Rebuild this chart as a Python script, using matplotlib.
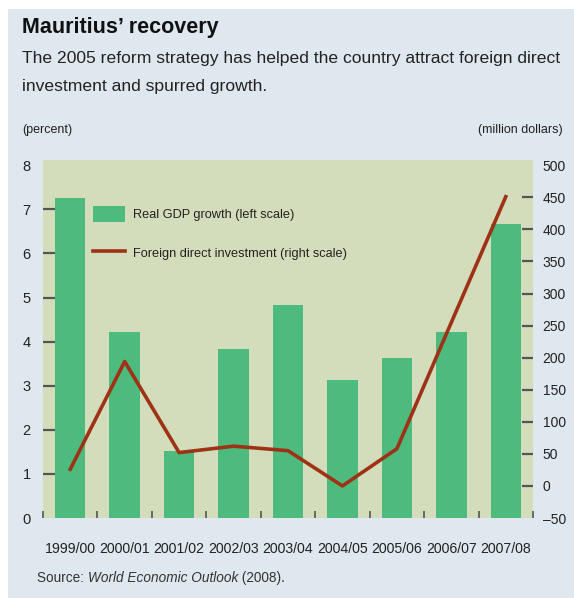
import matplotlib
matplotlib.use("Agg")
import matplotlib.pyplot as plt
from matplotlib.patches import Rectangle

plt.rcParams["font.family"] = ["Liberation Sans", "DejaVu Sans"]

# data
years = ["1999/00", "2000/01", "2001/02", "2002/03", "2003/04",
         "2004/05", "2005/06", "2006/07", "2007/08"]
gdp_growth = [7.25, 4.23, 1.53, 3.84, 4.84, 3.14, 3.64, 4.23, 6.67]
fdi = [26, 194, 52, 62, 55, 0, 58, 255, 451]

left_ticks = [0, 1, 2, 3, 4, 5, 6, 7, 8]
right_ticks = [-50, 0, 50, 100, 150, 200, 250, 300, 350, 400, 450, 500]

panel_bg = "#dfe7ef"
plot_bg = "#d4ddbb"
bar_green = "#4dbb7e"
line_red = "#9e3216"
tick_grey = "#555555"
text_dark = "#222222"

W, H = 574, 598
fig = plt.figure(figsize=(W / 100, H / 100), dpi=100)
fig.patch.set_facecolor("white")

# light blue panel behind everything
fig.patches.append(Rectangle((8 / W, 0.5 / H), 1, 1 - 9.5 / H, transform=fig.transFigure,
                             facecolor=panel_bg, edgecolor="none", zorder=-10))

ax = fig.add_axes([43 / W, 1 - 518 / H, 490 / W, 358 / H])
ax.set_facecolor(plot_bg)
x = list(range(len(years)))
ax.bar(x, gdp_growth, width=0.56, color=bar_green, zorder=2, label="Real GDP growth (left scale)")
ax.set_xlim(-0.5, len(years) - 0.5)
ax.set_ylim(0, 8.12)
for s in ax.spines.values():
    s.set_visible(False)

# labels on major ticks, marks only on inner values (minor ticks)
ax.yaxis.remove_overlapping_locs = False
ax.set_yticks(left_ticks)
ax.set_yticklabels([str(t) for t in left_ticks])
ax.set_yticks(left_ticks[1:-1], minor=True)
ax.tick_params(axis="y", which="major", length=0, labelsize=10.5, labelcolor=text_dark, pad=9)
ax.tick_params(axis="y", which="minor", direction="in", length=9, width=1.6, color=tick_grey)

ax.set_xticks(x)
ax.set_xticklabels(years)
ax.set_xticks([i - 0.5 for i in range(len(years) + 1)], minor=True)
ax.tick_params(axis="x", which="major", length=0, labelsize=10.2, labelcolor=text_dark, pad=17)
ax.tick_params(axis="x", which="minor", direction="in", length=5, width=1.2, color=tick_grey)

ax2 = ax.twinx()
line, = ax2.plot(x, fdi, color=line_red, lw=2.6, zorder=3,
                 label="Foreign direct investment (right scale)")
ax2.set_ylim(-50, -50 + 550 * 8.12 / 8)
for s in ax2.spines.values():
    s.set_visible(False)
ax2.yaxis.remove_overlapping_locs = False
ax2.set_yticks(right_ticks)
ax2.set_yticklabels(["\u201350" if t < 0 else str(t) for t in right_ticks])
ax2.set_yticks(right_ticks[1:-1], minor=True)
ax2.tick_params(axis="y", which="major", length=0, labelsize=10, labelcolor=text_dark, pad=7)
ax2.tick_params(axis="y", which="minor", direction="in", length=8, width=1.6, color=tick_grey)

handles = [ax.patches[0], line]
labels = ["Real GDP growth (left scale)", "Foreign direct investment (right scale)"]
ax2.legend(handles, labels, loc="upper left", bbox_to_anchor=(0.09, 0.89), frameon=False,
           fontsize=9.2, borderpad=0, handlelength=2.5, handleheight=1.6,
           handletextpad=0.6, labelspacing=1.75, labelcolor=text_dark)

fig.text(22 / W, 1 - 28 / H, "Mauritius\u2019 recovery", fontsize=15.5, fontweight="bold",
         color="#111111", va="center", ha="left")
fig.text(22 / W, 1 - 59 / H, "The 2005 reform strategy has helped the country attract foreign direct",
         fontsize=12.6, color=text_dark, va="center", ha="left")
fig.text(22 / W, 1 - 86 / H, "investment and spurred growth.",
         fontsize=12.6, color=text_dark, va="center", ha="left")
fig.text(22 / W, 1 - 130 / H, "(percent)", fontsize=9, color=text_dark, va="center", ha="left")
fig.text(563 / W, 1 - 130 / H, "(million dollars)", fontsize=9, color=text_dark,
         va="center", ha="right")

# source line: plain + italic pieces placed one after another
fig.canvas.draw()
renderer = fig.canvas.get_renderer()
xpos = 37
for piece, style in [("Source: ", "normal"), ("World Economic Outlook", "italic"), (" (2008).", "normal")]:
    t = fig.text(xpos / W, 1 - 578 / H, piece, fontsize=9.8, style=style, color="#333333",
                 va="center", ha="left")
    bb = t.get_window_extent(renderer)
    xpos = bb.x1

fig.savefig("out.png", dpi=100, facecolor=fig.get_facecolor())
